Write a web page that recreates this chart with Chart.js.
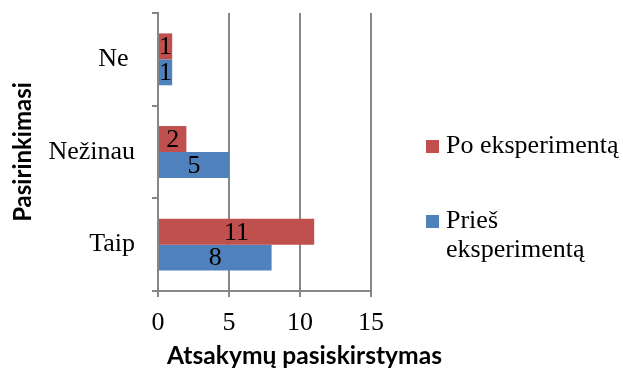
<!DOCTYPE html>
<html>
<head>
<meta charset="utf-8">
<script src="https://cdn.jsdelivr.net/npm/chart.js@4.4.0/dist/chart.umd.min.js"></script>
<style>
  html, body { margin: 0; padding: 0; background: #ffffff; }
  #wrap { width: 623px; height: 375px; }
</style>
</head>
<body>
<div id="wrap"><canvas id="c" width="623" height="375"></canvas></div>
<script>
// Answer categories (top to bottom) and the two survey rounds
const categories = ['Ne ', 'Nežinau', 'Taip'];
const poValues = [1, 2, 11];
const priesValues = [1, 5, 8];
const seriesNames = ['Po eksperimentą', 'Prieš eksperimentą'];
const xTickValues = [0, 5, 10, 15];
const xTitle = 'Atsakymų pasiskirstymas';
const yTitle = 'Pasirinkimasi';

const RED = '#C0504D';
const BLUE = '#4F81BD';
const GRID = '#878787';
const SERIF = "'Liberation Serif', 'Times New Roman', serif";
const SANS = "Lato, 'Liberation Sans', sans-serif";

// Writes each bar's value in the middle of the bar
const barValueLabels = {
  id: 'barValueLabels',
  afterDatasetsDraw(chart) {
    const ctx = chart.ctx;
    ctx.save();
    ctx.font = '26px ' + SERIF;
    ctx.fillStyle = '#000000';
    ctx.textAlign = 'center';
    ctx.textBaseline = 'middle';
    chart.data.datasets.forEach((ds, di) => {
      const meta = chart.getDatasetMeta(di);
      meta.data.forEach((bar, i) => {
        const p = bar.getProps(['x', 'y', 'base'], true);
        ctx.fillText(String(ds.data[i]), (p.x + p.base) / 2, p.y + 1);
      });
    });
    ctx.restore();
  }
};

// Horizontal axis title, drawn at its own width below the tick labels
const xAxisTitle = {
  id: 'xAxisTitle',
  afterDraw(chart, args, opts) {
    const ctx = chart.ctx;
    ctx.save();
    ctx.font = 'bold ' + opts.fontSize + 'px ' + SANS;
    ctx.fillStyle = '#000000';
    ctx.textAlign = 'left';
    ctx.textBaseline = 'alphabetic';
    ctx.fillText(opts.text, chart.chartArea.left + opts.dx, opts.baseline);
    ctx.restore();
  }
};

// Legend on the right, long names wrap onto a second line
const sideLegend = {
  id: 'sideLegend',
  afterDraw(chart, args, opts) {
    const ctx = chart.ctx;
    ctx.save();
    ctx.font = opts.fontSize + 'px ' + SERIF;
    ctx.textBaseline = 'middle';
    ctx.textAlign = 'left';
    const maxW = chart.width - opts.textX - 2;
    chart.data.datasets.forEach((ds, i) => {
      const cy = opts.firstY + i * opts.gap;
      ctx.fillStyle = ds.backgroundColor;
      ctx.fillRect(opts.boxX, cy - opts.box / 2, opts.box, opts.box);
      // wrap words to fit the remaining width
      const words = ds.label.split(' ');
      const lines = [];
      let cur = '';
      words.forEach(w => {
        const t = cur ? cur + ' ' + w : w;
        if (ctx.measureText(t).width > maxW && cur) { lines.push(cur); cur = w; }
        else cur = t;
      });
      lines.push(cur);
      ctx.fillStyle = '#000000';
      lines.forEach((ln, k) => ctx.fillText(ln, opts.textX, cy + k * opts.lineH));
    });
    ctx.restore();
  }
};

new Chart(document.getElementById('c'), {
  type: 'bar',
  data: {
    labels: categories,
    datasets: [
      { label: seriesNames[0], data: poValues, backgroundColor: RED,
        categoryPercentage: 0.56, barPercentage: 1.0 },
      { label: seriesNames[1], data: priesValues, backgroundColor: BLUE,
        categoryPercentage: 0.56, barPercentage: 1.0 }
    ]
  },
  options: {
    indexAxis: 'y',
    responsive: false,
    animation: false,
    layout: { padding: { top: 13, right: 252, left: 0, bottom: 0 } },
    plugins: {
      legend: { display: false },
      tooltip: { enabled: false },
      sideLegend: { boxX: 426, textX: 446, box: 13, firstY: 146.5, gap: 75, lineH: 29, fontSize: 26 },
      xAxisTitle: { text: xTitle, fontSize: 24.6, dx: 9, baseline: 364 }
    },
    scales: {
      x: {
        type: 'linear',
        min: xTickValues[0],
        max: xTickValues[xTickValues.length - 1],
        afterBuildTicks(scale) { scale.ticks = xTickValues.map(v => ({ value: v })); },
        ticks: { font: { family: SERIF, size: 26 }, color: '#000000', padding: 11 },
        grid: { color: GRID, lineWidth: 2, tickLength: 6, drawTicks: true },
        border: { color: GRID, width: 2 },
        title: { display: false },
        afterFit(scale) { scale.height = 84; scale.paddingLeft = 0; scale.paddingRight = 0; }
      },
      y: {
        type: 'category',
        offset: true,
        ticks: { font: { family: SERIF, size: 26 }, color: '#000000', padding: 17 },
        grid: { offset: true, drawOnChartArea: false, drawTicks: true, tickLength: 6, color: GRID, lineWidth: 2 },
        border: { color: GRID, width: 2 },
        title: {
          display: true, text: yTitle, color: '#000000',
          font: { family: SANS, size: 24, weight: 'bold' },
          padding: { top: 9, bottom: 0 }
        },
        afterFit(scale) { scale.width = 158; scale.paddingTop = 0; scale.paddingBottom = 0; }
      }
    }
  },
  plugins: [barValueLabels, xAxisTitle, sideLegend]
});
</script>
</body>
</html>
